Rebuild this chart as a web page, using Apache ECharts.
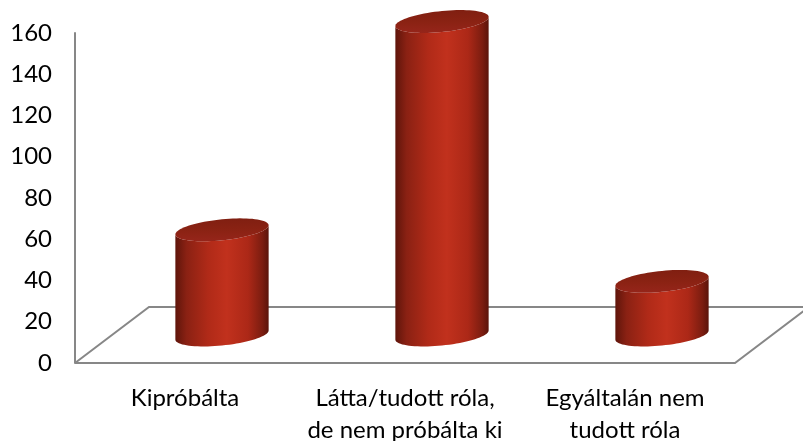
<!DOCTYPE html>
<html>
<head>
<meta charset="utf-8">
<script src="https://cdn.jsdelivr.net/npm/echarts@6/dist/echarts.min.js"></script>
<style>
  html, body { margin: 0; padding: 0; background: #ffffff; }
  #chart { width: 803px; height: 441px; }
</style>
</head>
<body>
<div id="chart"></div>
<script>
// ---- data ----
const categories = ['Kipróbálta', 'Látta/tudott róla,\nde nem próbálta ki', 'Egyáltalán nem\ntudott róla'];
const values = [51, 152, 26];
const yTicks = { min: 0, max: 160, interval: 20 };

// ---- style constants ----
const DEPTH_DX = 74;   // floor depth offset (px)
const DEPTH_DY = -56;
const LINE_COLOR = '#878787';
const FONT = 'Lato, "Open Sans", sans-serif';

const chart = echarts.init(document.getElementById('chart'));

function ellipsePoints(cx, cy, a, b, s, t0, t1, n) {
  const pts = [];
  for (let i = 0; i <= n; i++) {
    const t = t0 + (t1 - t0) * i / n;
    const x = cx + a * Math.cos(t);
    const y = cy + b * Math.sin(t) - s * a * Math.cos(t);
    pts.push([x, y]);
  }
  return pts;
}

function renderCylinder(params, api) {
  const idx = api.value(0);
  const val = api.value(1);
  const top = api.coord([idx, val]);
  const base = api.coord([idx, 0]);
  const band = api.size([1, 0])[0];
  const cx = base[0] + DEPTH_DX / 2;
  const by = base[1] + DEPTH_DY / 2;
  const ty = top[1] + DEPTH_DY / 2;
  const a = band * 0.212;
  const b = a * 0.225;
  const s = 0.098;

  const body = [];
  body.push([cx - a, ty + s * a]);
  body.push(...ellipsePoints(cx, by, a, b, s, Math.PI, 0, 40));
  body.push([cx + a, ty - s * a]);
  body.push(...ellipsePoints(cx, ty, a, b, s, 0, Math.PI, 40));

  const topPts = ellipsePoints(cx, ty, a, b, s, 0, Math.PI * 2, 80);

  return {
    type: 'group',
    children: [
      {
        type: 'polygon',
        shape: { points: body },
        style: {
          fill: new echarts.graphic.LinearGradient(0, 0, 1, 0, [
            { offset: 0, color: '#5f150b' },
            { offset: 0.12, color: '#8a2113' },
            { offset: 0.35, color: '#b02a18' },
            { offset: 0.55, color: '#c1311d' },
            { offset: 0.78, color: '#ac2817' },
            { offset: 0.93, color: '#7c1d10' },
            { offset: 1, color: '#5a140a' }
          ])
        }
      },
      {
        type: 'polygon',
        shape: { points: topPts },
        style: {
          fill: new echarts.graphic.LinearGradient(0, 1, 0, 0, [
            { offset: 0, color: '#96251a' },
            { offset: 0.5, color: '#8a2213' },
            { offset: 1, color: '#801f11' }
          ])
        }
      }
    ]
  };
}

function renderFloor(params, api) {
  const cs = params.coordSys;
  const x0 = cs.x, x1 = cs.x + cs.width;
  const y0 = cs.y + cs.height;
  const style = { stroke: LINE_COLOR, lineWidth: 2, fill: null };
  return {
    type: 'group',
    children: [
      { type: 'polyline', shape: { points: [[x0, y0], [x1, y0], [x1 + DEPTH_DX, y0 + DEPTH_DY]] }, style },
      { type: 'polyline', shape: { points: [[x0, y0], [x0 + DEPTH_DX, y0 + DEPTH_DY], [x1 + DEPTH_DX + 20, y0 + DEPTH_DY]] }, style }
    ]
  };
}

chart.setOption({
  animation: false,
  grid: { left: 75, right: 68, top: 33, bottom: 78, containLabel: false, outerBoundsMode: 'none' },
  xAxis: {
    type: 'category',
    data: categories,
    axisLine: { show: false },
    axisTick: { show: false },
    axisLabel: {
      color: '#000',
      fontFamily: FONT,
      fontSize: 24,
      lineHeight: 32,
      margin: 19,
      interval: 0
    },
    splitLine: { show: false }
  },
  yAxis: {
    type: 'value',
    min: yTicks.min,
    max: yTicks.max,
    interval: yTicks.interval,
    axisLine: { show: true, lineStyle: { color: LINE_COLOR, width: 2 } },
    axisTick: { show: false },
    splitLine: { show: false },
    axisLabel: { color: '#000', fontFamily: FONT, fontSize: 24, margin: 23 }
  },
  series: [
    {
      type: 'custom',
      renderItem: renderFloor,
      data: [[0, 0]],
      silent: true,
      z: 1,
      clip: false
    },
    {
      type: 'custom',
      renderItem: renderCylinder,
      data: values.map((v, i) => [i, v]),
      z: 2,
      clip: false
    }
  ]
});
</script>
</body>
</html>
